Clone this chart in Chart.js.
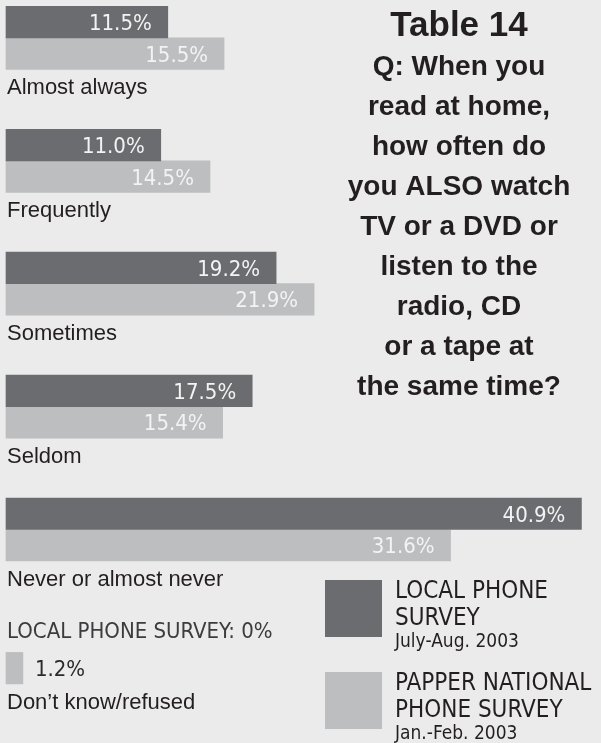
<!DOCTYPE html>
<html>
<head>
<meta charset="utf-8">
<script src="https://cdn.jsdelivr.net/npm/chart.js@4.4.1/dist/chart.umd.min.js"></script>
<style>
  html, body { margin: 0; padding: 0; background: #ebebeb; }
  #wrap { position: relative; width: 601px; height: 743px; }
</style>
</head>
<body>
<div id="wrap"><canvas id="chart"></canvas></div>
<script>
'use strict';

const categories = ['Almost always', 'Frequently', 'Sometimes', 'Seldom', 'Never or almost never', 'Don\u2019t know/refused'];
const localValues = [11.5, 11.0, 19.2, 17.5, 40.9, 0];
const papperValues = [15.5, 14.5, 21.9, 15.4, 31.6, 1.2];

const localName = 'LOCAL PHONE SURVEY';
const papperName = 'PAPPER NATIONAL PHONE SURVEY';
const localLegend = ['LOCAL PHONE', 'SURVEY'];
const papperLegend = ['PAPPER NATIONAL', 'PHONE SURVEY'];
const localDates = 'July-Aug. 2003';
const papperDates = 'Jan.-Feb. 2003';

const titleLines = ['Q: When you', 'read at home,', 'how often do', 'you ALSO watch', 'TV or a DVD or',
  'listen to the', 'radio, CD', 'or a tape at', 'the same time?'];
const tableNo = 'Table 14';

const DARK = '#6b6c70';
const LIGHT = '#bdbec0';
const INK = '#231f20';
const NARROW = '"Liberation Sans Narrow", "DejaVu Sans Condensed", sans-serif';
const SANS = '"Liberation Sans", sans-serif';

// zero-length bars get no paint at all
const barColor = color => c => (c.raw === 0 ? 'rgba(0,0,0,0)' : color);

// text drawn over the chart: values, category names, title block and legend
const textPlugin = {
  id: 'textLayer',
  afterDatasetsDraw(chart) {
    const ctx = chart.ctx;
    const left = chart.chartArea.left;
    ctx.save();
    ctx.textBaseline = 'alphabetic';

    chart.data.datasets.forEach((ds, di) => {
      chart.getDatasetMeta(di).data.forEach((bar, i) => {
        const v = ds.data[i];
        ctx.font = '22px ' + NARROW;
        if (v === 0) {
          ctx.fillStyle = '#3c3c3e';
          ctx.textAlign = 'left';
          ctx.fillText(ds.label + ': 0%', left + 1, bar.y + 1);
          return;
        }
        const text = v.toFixed(1) + '%';
        if (bar.x - bar.base > 70) {
          ctx.fillStyle = '#f3f3f3';
          ctx.textAlign = 'right';
          ctx.fillText(text, bar.x - 16, bar.y + 8);
        } else {
          ctx.fillStyle = '#2a2a2c';
          ctx.textAlign = 'left';
          ctx.fillText(text, bar.x + 12, bar.y + 8);
        }
      });
    });

    // category names under each pair of bars
    ctx.fillStyle = INK;
    ctx.textAlign = 'left';
    ctx.font = '22px ' + SANS;
    chart.getDatasetMeta(1).data.forEach((bar, i) => {
      ctx.fillText(categories[i], left + 1, bar.y + bar.height / 2 + 25);
    });

    // title block on the right
    ctx.textAlign = 'center';
    ctx.font = 'bold 35px ' + SANS;
    ctx.fillText(tableNo, 459, 36);
    ctx.font = 'bold 28px ' + SANS;
    titleLines.forEach((line, k) => ctx.fillText(line, 459, 75 + k * 40));

    // legend
    const items = [
      { color: DARK, lines: localLegend, dates: localDates, top: 580 },
      { color: LIGHT, lines: papperLegend, dates: papperDates, top: 672 }
    ];
    items.forEach(it => {
      ctx.fillStyle = it.color;
      ctx.fillRect(325, it.top, 57, 57);
      ctx.fillStyle = INK;
      ctx.textAlign = 'left';
      ctx.font = '24px ' + NARROW;
      it.lines.forEach((line, k) => ctx.fillText(line, 395, it.top + 18 + k * 27));
      ctx.font = '19px ' + NARROW;
      ctx.fillText(it.dates, 395, it.top + 67);
    });

    ctx.restore();
  }
};

new Chart(document.getElementById('chart'), {
  type: 'bar',
  data: {
    labels: categories,
    datasets: [{
      label: localName,
      data: localValues,
      backgroundColor: barColor(DARK),
      barThickness: 31.5,
      clip: false
    }, {
      label: papperName,
      data: papperValues,
      backgroundColor: barColor(LIGHT),
      barThickness: 31.5,
      clip: false
    }]
  },
  options: {
    indexAxis: 'y',
    responsive: true,
    maintainAspectRatio: false,
    animation: false,
    layout: { padding: { left: 6, right: 4.1, top: 37.9, bottom: 90.6 } },
    scales: {
      x: { display: false, min: 0, max: 42 },
      y: { display: false, offset: false }
    },
    plugins: {
      legend: { display: false },
      title: { display: false },
      tooltip: { enabled: false }
    }
  },
  plugins: [textPlugin]
});
</script>
</body>
</html>
